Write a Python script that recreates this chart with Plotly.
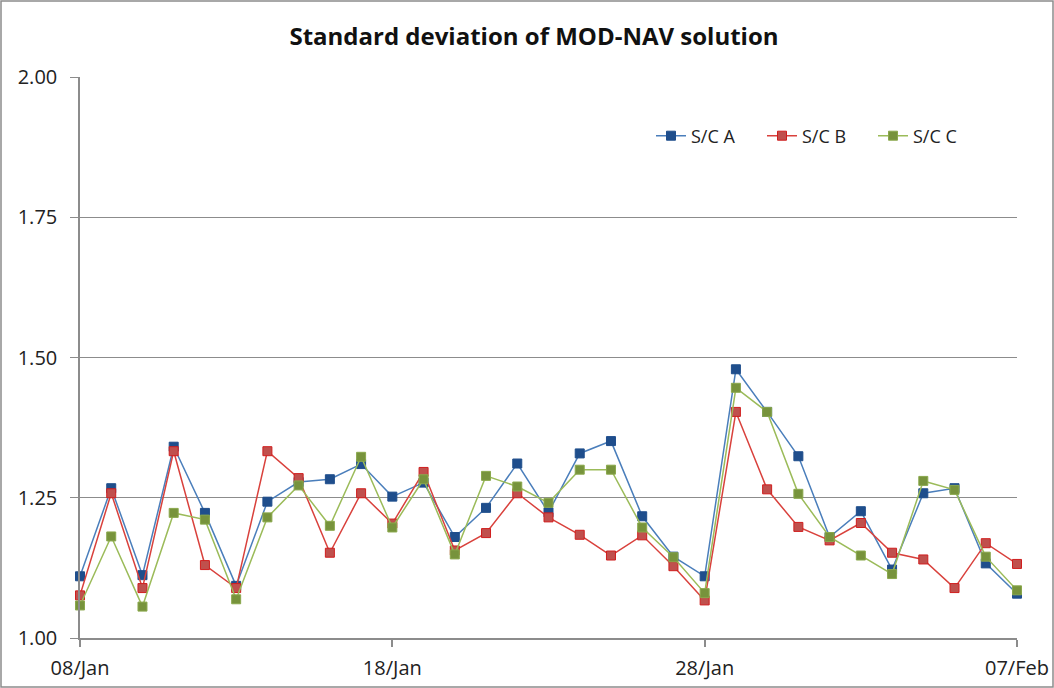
import plotly.graph_objects as go
import pandas as pd

dates = pd.date_range("2013-01-08", "2013-02-07", freq="D")

sc_a = [1.110, 1.267, 1.112, 1.341, 1.223, 1.093, 1.243, 1.278, 1.283, 1.310, 1.252,
        1.277, 1.180, 1.232, 1.311, 1.224, 1.329, 1.351, 1.217, 1.145, 1.110,
        1.479, 1.403, 1.324, 1.180, 1.226, 1.122, 1.258, 1.267, 1.133, 1.079]
sc_b = [1.076, 1.258, 1.089, 1.333, 1.130, 1.089, 1.333, 1.285, 1.152, 1.258, 1.204,
        1.296, 1.156, 1.187, 1.258, 1.215, 1.184, 1.147, 1.183, 1.128, 1.067,
        1.403, 1.265, 1.198, 1.174, 1.205, 1.152, 1.140, 1.089, 1.169, 1.132]
sc_c = [1.058, 1.181, 1.056, 1.223, 1.211, 1.069, 1.215, 1.272, 1.200, 1.323, 1.197,
        1.283, 1.149, 1.289, 1.270, 1.241, 1.300, 1.300, 1.197, 1.144, 1.080,
        1.446, 1.403, 1.257, 1.180, 1.147, 1.114, 1.280, 1.264, 1.145, 1.085]

x_ticks = ["2013-01-08", "2013-01-18", "2013-01-28", "2013-02-07"]
y_ticks = [1.00, 1.25, 1.50, 1.75, 2.00]

font_family = "Open Sans, Liberation Sans, sans-serif"

fig = go.Figure()
series = [
    ("S/C A", sc_a, "#4a7ebb", "#1f4e8c", "#1f4e8c"),
    ("S/C B", sc_b, "#d9413c", "#c0504d", "#d01e1e"),
    ("S/C C", sc_c, "#9bbb59", "#77933c", "#8aa84c"),
]
for name, vals, lc, mc, mlc in series:
    fig.add_trace(go.Scatter(
        x=dates, y=vals, name=name, mode="lines+markers",
        line=dict(color=lc, width=1.5),
        marker=dict(symbol="square", size=9, color=mc, line=dict(color=mlc, width=1)),
        cliponaxis=False,
    ))

W, H = 1054, 688
L, R, T, B = 80, 37, 77, 50
pw, ph = W - L - R, H - T - B

fig.update_layout(
    width=W, height=H,
    margin=dict(l=L, r=R, t=T, b=B, autoexpand=False),
    paper_bgcolor="white", plot_bgcolor="white",
    font=dict(family=font_family, size=18, color="#222222"),
    title=dict(text="<b>Standard deviation of MOD-NAV solution</b>",
               x=534 / W, xanchor="center", y=1 - 37 / H, yanchor="middle",
               font=dict(size=24, family=font_family, color="#111111")),
    showlegend=True,
    legend=dict(orientation="h", x=(651 - L) / pw, y=(H - B - 136) / ph,
                xanchor="left", yanchor="middle",
                font=dict(size=18), bgcolor="rgba(0,0,0,0)",
                entrywidth=66, entrywidthmode="pixels"),
    xaxis=dict(
        type="date", range=[x_ticks[0], x_ticks[-1]],
        tickvals=x_ticks, tickformat="%d/%b", automargin=False,
        showgrid=False, showline=True, linecolor="#8c8c8c", linewidth=1.5,
        ticks="outside", ticklen=7, tickcolor="#8c8c8c", tickwidth=1.5,
        tickfont=dict(size=20), zeroline=False, ticklabelstandoff=4,
    ),
    yaxis=dict(
        range=[1.0, 2.0], tickvals=y_ticks, tickformat=".2f", automargin=False,
        showgrid=True, gridcolor="#8c8c8c", gridwidth=1.2,
        showline=True, linecolor="#8c8c8c", linewidth=1.5,
        ticks="outside", ticklen=8, tickcolor="#8c8c8c", tickwidth=1.2,
        tickfont=dict(size=20), zeroline=False, ticklabelstandoff=9,
    ),
    shapes=[dict(type="rect", xref="paper", yref="paper",
                 x0=(1 - L) / pw, x1=(W - 1 - L) / pw,
                 y0=-(B - 1) / ph, y1=(H - 1 - B) / ph,
                 line=dict(color="#8c8c8c", width=1.5), layer="below")],
)

fig.write_html("out.html", config={"displayModeBar": False},
               post_script="document.body.style.margin='0';")
